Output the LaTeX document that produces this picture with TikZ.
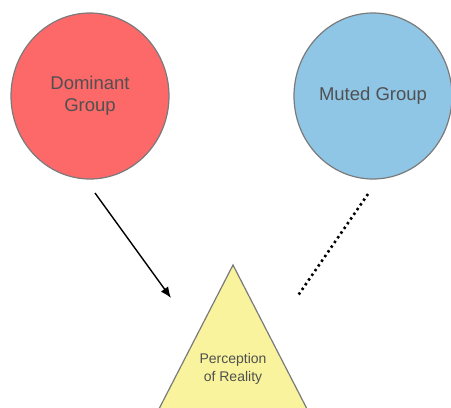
\documentclass[tikz,border=0pt]{standalone}
\usepackage{fontspec}
\setmainfont{Liberation Sans}
\usetikzlibrary{arrows.meta,shapes.geometric}
\definecolor{redfill}{HTML}{FD6868}
\definecolor{bluefill}{HTML}{8FC6E6}
\definecolor{yellowfill}{HTML}{F8F39C}
\definecolor{edgegray}{HTML}{7A7A7A}
\definecolor{textgray}{HTML}{505050}
\begin{document}
\begin{tikzpicture}[x=1pt,y=-1pt,
  group/.style={ellipse, draw=edgegray, line width=1.2pt, minimum width=158pt, minimum height=166pt, inner sep=0pt,
    text=textgray, align=center, font=\fontsize{18.5}{22}\selectfont},
  label text/.style={text=textgray, align=center, font=\fontsize{14}{18}\selectfont},
  strong/.style={line width=1.4pt, -{Latex[length=11pt,width=9pt]}},
  weak/.style={line width=2.6pt, dash pattern=on 2.4pt off 3.3pt}]
\useasboundingbox (0,0) rectangle (451,408);
\clip (0,0) rectangle (451,408);
\node[group, fill=redfill] (dom) at (90,96) {Dominant\\Group};
\node[group, fill=bluefill] (mut) at (373,96) {Muted Group};
\draw[fill=yellowfill, draw=edgegray, line width=1.2pt] (233,265) -- (323,440) -- (143,440) -- cycle;
\node[label text] (per) at (233,369) {Perception\\of Reality};
\coordinate (a1) at (95,193);
\coordinate (a2) at (171,298);
\coordinate (b1) at (368,194);
\coordinate (b2) at (297,297);
\draw[strong] (a1) -- (a2);
\draw[weak] (b1) -- (b2);
\end{tikzpicture}
\end{document}
